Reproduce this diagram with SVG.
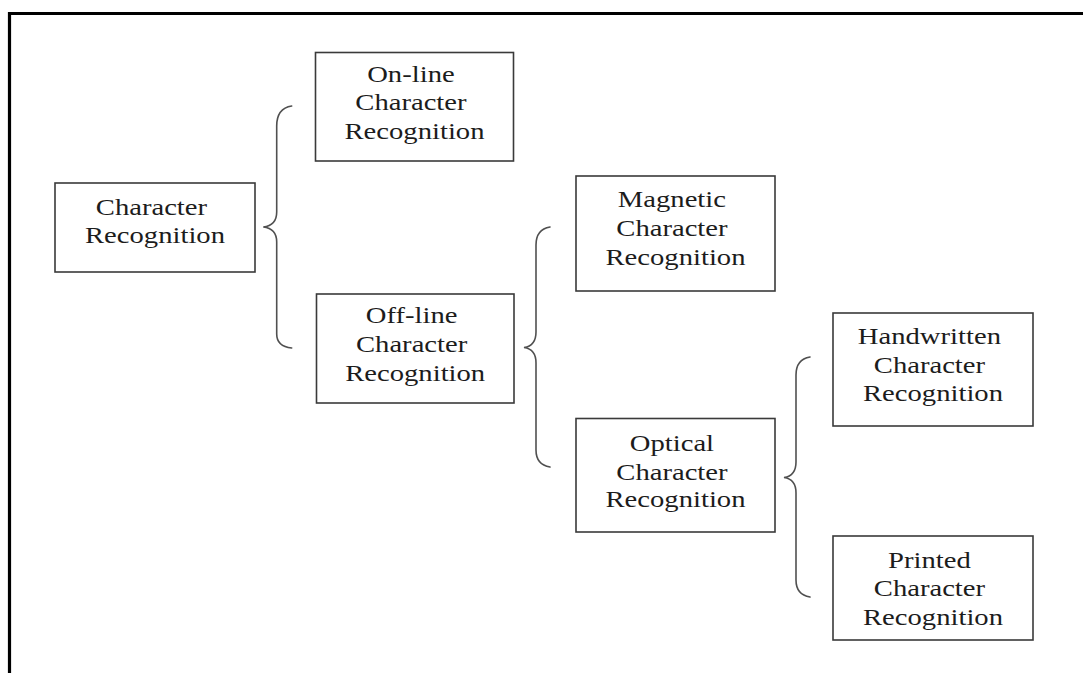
<svg xmlns="http://www.w3.org/2000/svg" width="1083" height="673" viewBox="0 0 1083 673">
  <style>
    .box { fill: #ffffff; stroke: #3a3a3a; stroke-width: 1.6; }
    .lbl { font-family: "Liberation Serif", "Times New Roman", serif; font-size: 23px; fill: #1c1c1c; text-anchor: middle; }
    .brace { fill: none; stroke: #505050; stroke-width: 1.6; stroke-linecap: round; }
    .frame { fill: none; stroke: #000000; stroke-width: 3.2; }
  </style>

  <rect x="0" y="0" width="1083" height="673" fill="#ffffff"/>

  <!-- page frame: top and left rules -->
  <path class="frame" d="M9.5,673 L9.5,13.5 L1083,13.5"/>

  <!-- curly braces joining each parent to its two children -->
  <g id="connectors">
    <path class="brace" d="M291.7,106 C282,107.5 276.7,114 276.7,126 L276.7,212 C276.7,221 272,226 263.3,227 C272,228 276.7,233 276.7,242 L276.7,334 C276.7,342 282,347 291.7,348"/>
    <path class="brace" d="M550,227 C541,228.5 536,234 536,245 L536,332 C536,341 531.5,346.5 524,347.5 C531.5,348.5 536,354 536,363 L536,450 C536,460 541,465.5 550,467"/>
    <path class="brace" d="M810,357 C801,358.5 796,364 796,375 L796,462 C796,471 791.5,476.5 784,477.5 C791.5,478.5 796,484 796,493 L796,580 C796,590 801,595.5 810,597"/>
  </g>

  <g id="character-recognition">
    <rect class="box" x="55" y="183" width="200" height="89"/>
    <text class="lbl" transform="matrix(1.245 0 0 1 155 0)">
      <tspan x="0" y="215.5">Character</tspan>
      <tspan x="0" y="243.5">Recognition</tspan>
    </text>
  </g>

  <g id="online-recognition">
    <rect class="box" x="315.5" y="52.5" width="198" height="108.5"/>
    <text class="lbl" transform="matrix(1.245 0 0 1 414.5 0)">
      <tspan x="0" y="82">On-line</tspan>
      <tspan x="0" y="110.5">Character</tspan>
      <tspan x="0" y="139">Recognition</tspan>
    </text>
  </g>

  <g id="offline-recognition">
    <rect class="box" x="316.5" y="294" width="197.5" height="109"/>
    <text class="lbl" transform="matrix(1.245 0 0 1 415.2 0)">
      <tspan x="0" y="323.5">Off-line</tspan>
      <tspan x="0" y="352.5">Character</tspan>
      <tspan x="0" y="381">Recognition</tspan>
    </text>
  </g>

  <g id="magnetic-recognition">
    <rect class="box" x="576" y="176" width="199" height="115"/>
    <text class="lbl" transform="matrix(1.245 0 0 1 675.5 0)">
      <tspan x="0" y="207.5">Magnetic</tspan>
      <tspan x="0" y="236.5">Character</tspan>
      <tspan x="0" y="265">Recognition</tspan>
    </text>
  </g>

  <g id="optical-recognition">
    <rect class="box" x="576" y="418.5" width="199" height="113.5"/>
    <text class="lbl" transform="matrix(1.245 0 0 1 675.5 0)">
      <tspan x="0" y="451.5">Optical</tspan>
      <tspan x="0" y="480">Character</tspan>
      <tspan x="0" y="507">Recognition</tspan>
    </text>
  </g>

  <g id="handwritten-recognition">
    <rect class="box" x="833" y="313" width="200" height="113"/>
    <text class="lbl" transform="matrix(1.245 0 0 1 933 0)">
      <tspan x="0" y="344">Handwritten</tspan>
      <tspan x="0" y="373">Character</tspan>
      <tspan x="0" y="401.5">Recognition</tspan>
    </text>
  </g>

  <g id="printed-recognition">
    <rect class="box" x="833" y="536" width="200" height="104"/>
    <text class="lbl" transform="matrix(1.245 0 0 1 933 0)">
      <tspan x="0" y="568">Printed</tspan>
      <tspan x="0" y="596.5">Character</tspan>
      <tspan x="0" y="625">Recognition</tspan>
    </text>
  </g>
</svg>
